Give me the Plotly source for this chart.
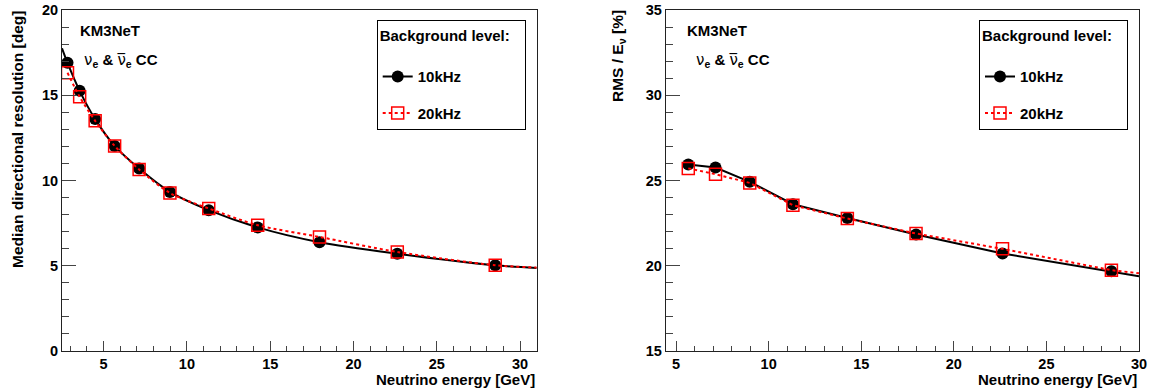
import plotly.graph_objects as go

# ---------------- data ----------------
energy_left = [2.83, 3.56, 4.49, 5.66, 7.13, 8.98, 11.31, 14.25, 17.96, 22.63, 28.51]
dir_res_10k = [16.9, 15.26, 13.6, 12.03, 10.7, 9.33, 8.26, 7.25, 6.38, 5.71, 5.03]
dir_res_20k = [16.32, 14.91, 13.5, 12.03, 10.65, 9.27, 8.36, 7.38, 6.69, 5.81, 5.03]
# fitted-curve end values read at the frame edges
dir_curve_x_lo, dir_curve_x_hi = 2.5, 31.0
dir_curve_10k_lo, dir_curve_10k_hi = 17.75, 4.87
dir_curve_20k_hi = 4.90

energy_right = [5.66, 7.13, 8.98, 11.31, 14.25, 17.96, 22.63, 28.51]
rms_10k = [25.94, 25.76, 24.92, 23.61, 22.8, 21.83, 20.72, 19.68]
rms_20k = [25.71, 25.37, 24.86, 23.55, 22.77, 21.89, 20.99, 19.74]
rms_curve_x_hi = 30.0
rms_curve_10k_hi = 19.39
rms_curve_20k_hi = 19.56

series_names = ["10kHz", "20kHz"]

# ---------------- style ----------------
FONT = "Liberation Sans, Arial, sans-serif"
BLACK = "#000000"
RED = "#ff0000"
W, H = 1153, 390
L_PX, R_PX = 62, 536.7
L2_PX, R2_PX = 665.7, 1139
TOP_PX, BOT_PX = 10, 350.7
PH = BOT_PX - TOP_PX


def py(p):
    return (BOT_PX - p) / PH


fig = go.Figure()

# ---- left panel ----
fig.add_trace(go.Scatter(
    x=[dir_curve_x_lo] + energy_left + [dir_curve_x_hi],
    y=[dir_curve_10k_lo] + dir_res_10k + [dir_curve_10k_hi],
    mode="lines", line=dict(color=BLACK, width=2, shape="spline", smoothing=0.8),
    showlegend=False, xaxis="x", yaxis="y", hoverinfo="skip"))
fig.add_trace(go.Scatter(
    x=energy_left, y=dir_res_10k, mode="markers",
    marker=dict(symbol="circle", size=12, color=BLACK),
    showlegend=False, xaxis="x", yaxis="y"))
fig.add_trace(go.Scatter(
    x=energy_left + [dir_curve_x_hi],
    y=dir_res_20k + [dir_curve_20k_hi],
    mode="lines", line=dict(color=RED, width=2, dash="dot", shape="spline", smoothing=0.8),
    showlegend=False, xaxis="x", yaxis="y", hoverinfo="skip"))
fig.add_trace(go.Scatter(
    x=energy_left, y=dir_res_20k, mode="markers",
    marker=dict(symbol="square-open", size=12, color=RED, line=dict(width=1.5, color=RED)),
    showlegend=False, xaxis="x", yaxis="y"))

# ---- right panel ----
fig.add_trace(go.Scatter(
    x=energy_right + [rms_curve_x_hi], y=rms_10k + [rms_curve_10k_hi],
    mode="lines", line=dict(color=BLACK, width=2),
    showlegend=False, xaxis="x2", yaxis="y2", hoverinfo="skip"))
fig.add_trace(go.Scatter(
    x=energy_right, y=rms_10k, mode="markers",
    marker=dict(symbol="circle", size=12, color=BLACK),
    showlegend=False, xaxis="x2", yaxis="y2"))
fig.add_trace(go.Scatter(
    x=energy_right + [rms_curve_x_hi], y=rms_20k + [rms_curve_20k_hi],
    mode="lines", line=dict(color=RED, width=2, dash="dot"),
    showlegend=False, xaxis="x2", yaxis="y2", hoverinfo="skip"))
fig.add_trace(go.Scatter(
    x=energy_right, y=rms_20k, mode="markers",
    marker=dict(symbol="square-open", size=12, color=RED, line=dict(width=1.5, color=RED)),
    showlegend=False, xaxis="x2", yaxis="y2"))

# ---- legend entries ----
for leg, xa, ya in [("legend", "x", "y"), ("legend2", "x2", "y2")]:
    fig.add_trace(go.Scatter(
        x=[None], y=[None], mode="lines+markers", name=series_names[0],
        line=dict(color=BLACK, width=2), marker=dict(symbol="circle", size=12, color=BLACK),
        legend=leg, legendgroup=leg + "a", xaxis=xa, yaxis=ya))
    fig.add_trace(go.Scatter(
        x=[None], y=[None], mode="lines+markers", name=series_names[1],
        line=dict(color=RED, width=2, dash="dot"),
        marker=dict(symbol="square-open", size=12, color=RED, line=dict(width=1.5, color=RED)),
        legend=leg, legendgroup=leg + "b", xaxis=xa, yaxis=ya))

axis_common = dict(
    showgrid=False, zeroline=False, showline=True, linecolor="#222", linewidth=1,
    mirror=True, ticks="inside", tickcolor="#444", tickwidth=1,
    tickfont=dict(family=FONT, size=14.5, color=BLACK, weight="bold"),
    automargin=False, fixedrange=True,
)
xcommon = dict(axis_common, ticklen=10, tick0=0, dtick=5,
               minor=dict(ticks="inside", ticklen=5, dtick=1, tick0=0, tickcolor="#444", showgrid=False))
ycommon = dict(axis_common, ticklen=14, tick0=0, dtick=5,
               minor=dict(ticks="inside", ticklen=7, dtick=1, tick0=0, tickcolor="#444", showgrid=False))

legend_common = dict(
    bgcolor="white", bordercolor=BLACK, borderwidth=1,
    font=dict(family=FONT, size=15, color=BLACK, weight="bold"),
    title=dict(text="Background level:\u00a0\u00a0\u00a0<br> ",
               font=dict(family=FONT, size=15, color=BLACK, weight="bold")),
    xanchor="left", yanchor="top", tracegroupgap=14, itemwidth=30,
)

fig.update_layout(
    width=W, height=H,
    margin=dict(l=0, r=0, t=TOP_PX, b=H - BOT_PX, pad=0),
    paper_bgcolor="white", plot_bgcolor="white",
    font=dict(family=FONT, color=BLACK),
    xaxis=dict(xcommon, domain=[L_PX / W, R_PX / W], range=[2.5, 31], anchor="y"),
    yaxis=dict(ycommon, domain=[0, 1], range=[0, 20], anchor="x"),
    xaxis2=dict(xcommon, domain=[L2_PX / W, R2_PX / W], range=[4.44, 30], anchor="y2"),
    yaxis2=dict(ycommon, domain=[0, 1], range=[15, 35], anchor="x2"),
    legend=dict(legend_common, x=376.7 / W, y=py(20.3)),
    legend2=dict(legend_common, x=979 / W, y=py(20.3)),
)

nu = "<span style='font-family:DejaVu Sans;font-weight:normal'>ν</span>"
nubar = "<span style='font-family:DejaVu Sans;font-weight:normal'>ν\u0305</span>"
nu_text = f"{nu}<sub><b>e</b></sub><b> & </b>{nubar}<sub><b>e</b></sub><b> CC</b>"
ann = []
for x0 in [78, 685]:
    ann.append(dict(text="<b>KM3NeT</b>", x=x0 / W, y=py(30), xref="paper", yref="paper",
                    xanchor="left", yanchor="middle", showarrow=False,
                    font=dict(family=FONT, size=15, color=BLACK)))
for x0 in [82, 694]:
    ann.append(dict(text=nu_text, x=x0 / W, y=py(60), xref="paper", yref="paper",
                    xanchor="left", yanchor="middle", showarrow=False,
                    font=dict(family=FONT, size=15, color=BLACK)))
# axis titles
ann.append(dict(text="<b>Median directional resolution [deg]</b>", textangle=-90,
                x=18 / W, y=py(8), xref="paper", yref="paper", xanchor="center", yanchor="top",
                showarrow=False, font=dict(family=FONT, size=15.5, color=BLACK)))
ann.append(dict(text="<b>RMS / E<sub>ν</sub> [%]</b>", textangle=-90,
                x=619 / W, y=py(8), xref="paper", yref="paper", xanchor="center", yanchor="top",
                showarrow=False, font=dict(family=FONT, size=15.5, color=BLACK)))
for xr in [R_PX, R2_PX]:
    ann.append(dict(text="<b>Neutrino energy [GeV]</b>", x=xr / W, y=py(379), xref="paper",
                    yref="paper", xanchor="right", yanchor="middle", showarrow=False,
                    font=dict(family=FONT, size=15, color=BLACK)))
fig.update_layout(annotations=ann)

fig.write_html("out.html", config={"displayModeBar": False},
               post_script="document.body.style.margin='0';document.body.style.padding='0';")
